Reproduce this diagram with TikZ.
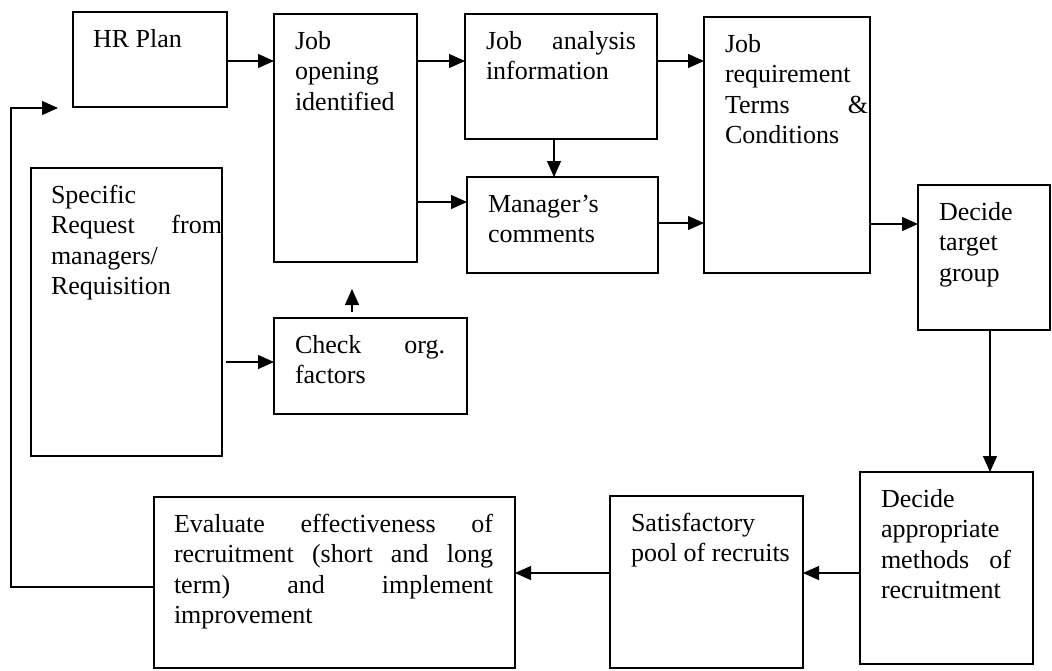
\documentclass[tikz,border=0pt]{standalone}
\usepackage{fontspec}
\setmainfont{Liberation Serif}
\usetikzlibrary{arrows.meta,calc}
% box text: box width, box height, left pad, right pad, text (first baseline 35pt below the top)
\newcommand{\cellbox}[5]{%
  \hspace*{#3pt}\parbox[c][#2pt][t]{\dimexpr #1pt-#3pt-#4pt\relax}{\hyphenpenalty=10000 \rule{0pt}{35pt}#5}\hspace*{#4pt}}
\begin{document}
\begin{tikzpicture}[x=1pt,y=-1pt,
  box/.style={draw, line width=1.3pt, inner sep=0pt, outer sep=0pt, anchor=north west,
    font=\fontsize{26}{30.5}\selectfont},
  conn/.style={line width=1.3pt, -{Triangle[length=16pt,width=14pt]}}]
\fill[white] (0,0) rectangle (1052,670);
\useasboundingbox (0,0) rectangle (1052,670);

% process boxes
\node[box] (hr) at (73,12) {\cellbox{154}{95}{20}{20}{HR Plan}};
\node[box] (jo) at (274,14) {\cellbox{143}{248}{21}{21}{Job\\opening\\identified}};
\node[box] (ja) at (465,14) {\cellbox{192}{125}{21}{21}{Job\hfill analysis\\information}};
\node[box] (mc) at (467,177) {\cellbox{191}{96}{21}{21}{Manager’s\\comments}};
\node[box] (jr) at (704,17) {\cellbox{166}{256}{21}{2}{Job\\requirement\\Terms\hfill\&\\Conditions}};
\node[box] (dt) at (918,185) {\cellbox{132}{145}{21}{21}{Decide\\target\\group}};
\node[box] (spec) at (31,168) {\cellbox{191}{288}{20}{0}{Specific\\Request\hfill from\\managers/\\Requisition}};
\node[box] (check) at (274,318) {\cellbox{193}{96}{21}{22}{Check\hfill org.\\factors}};
\node[box] (ev) at (154,497) {\cellbox{361}{171}{20}{22}{Evaluate\hfill effectiveness\hfill of\\recruitment\hfill (short\hfill and\hfill long\\term)\hfill and\hfill implement\\improvement}};
\node[box] (sp) at (610,496) {\cellbox{193}{172}{21}{10}{Satisfactory\\pool of recruits}};
\node[box] (da) at (860,472) {\cellbox{173}{192}{21}{22}{Decide\\appropriate\\methods\hfill of\\recruitment}};

% connection points
\coordinate (hrout) at ($(hr.north east)+(0,49)$);
\coordinate (row1) at ($(ja.north west)+(0,47)$);
\coordinate (row2) at ($(mc.north west)+(0,25)$);
\coordinate (jadown) at ($(ja.south)+(-7,0)$);
\coordinate (mcout) at ($(mc.north east)+(0,46)$);
\coordinate (dtin) at ($(dt.north west)+(0,39)$);
\coordinate (dtdown) at ($(dt.south west)+(72,0)$);
\coordinate (daout) at ($(da.west)+(0,5)$);
\coordinate (specout) at ($(spec.east |- check.west)+(4,-4)$);
\coordinate (chkfrom) at ($(check.north west)+(78,-6)$);
\coordinate (chkto) at ($(jo.south west)+(78,27)$);
\coordinate (fbend) at ($(hr.south west)+(-15,1)$);
\coordinate (fbstart) at ($(ev.west)+(0,4.5)$);
\coordinate (fbrail) at ($(fbend)+(-47,0)$);

% arrows
\draw[conn] (hrout) -- (hrout -| jo.west);
\draw[conn] (row1 -| jo.east) -- (row1);
\draw[conn] (row2 -| jo.east) -- (row2);
\draw[conn] (jadown) -- (jadown |- mc.north);
\draw[conn] (row1 -| ja.east) -- (row1 -| jr.west);
\draw[conn] (mcout) -- (mcout -| jr.west);
\draw[conn] (dtin -| jr.east) -- (dtin);
\draw[conn] (dtdown) -- (dtdown |- da.north);
\draw[conn] (daout) -- (daout -| sp.east);
\draw[conn] (daout -| sp.west) -- (daout -| ev.east);
\draw[conn] (specout) -- (specout -| check.west);
\draw[conn] (chkfrom) -- (chkto);
\draw[conn] (fbstart) -| (fbrail) -- (fbend);
\end{tikzpicture}
\end{document}
